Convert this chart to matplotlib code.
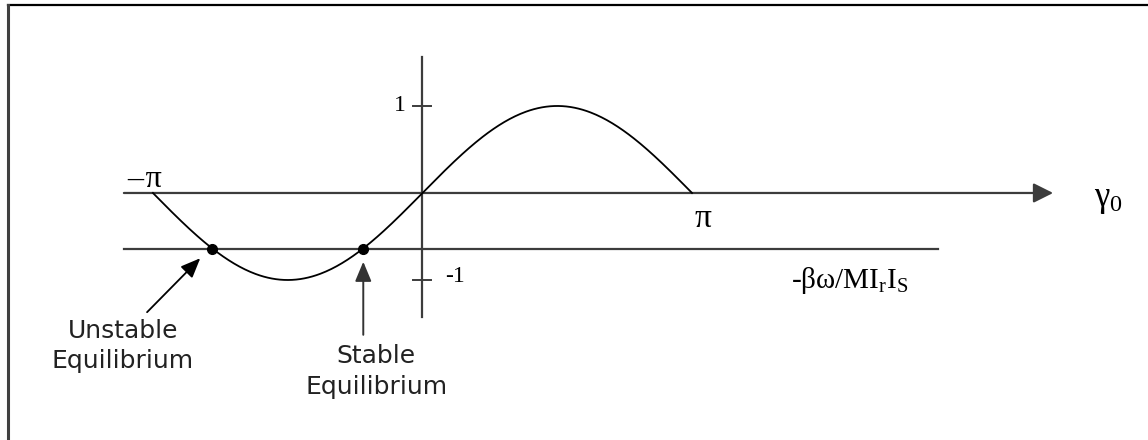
import numpy as np
import matplotlib
matplotlib.use("Agg")
import matplotlib.pyplot as plt
from matplotlib.lines import Line2D
from matplotlib.patches import FancyArrowPatch

# ====== data ======
gamma_start, gamma_end = -np.pi, np.pi      # curve drawn over one period
torque_level = -0.64                        # -beta*omega / (M Ir Is)
gamma_eq = [-2.45, -0.69]                   # unstable, stable equilibria
eq_names = ["Unstable\nEquilibrium", "Stable\nEquilibrium"]
tick_values = [1, -1]
tick_labels = ["1", "-1"]

gamma = np.linspace(gamma_start, gamma_end, 400)
torque = np.sin(gamma)

# ====== figure ======
fig = plt.figure(figsize=(11.48, 4.4), dpi=100)
ax = fig.add_axes([0, 0, 1, 1])
ax.set_xlim(-4.924, 8.456)
ax.set_ylim(-2.839, 2.218)
ax.axis("off")

axis_col = "#3c3c3c"
serif = ["Liberation Serif", "DejaVu Serif"]

# axes of the diagram
ax.add_patch(FancyArrowPatch((-3.48, 0), (7.35, 0), arrowstyle="-|>,head_length=0.6,head_width=0.3",
                             mutation_scale=20, color=axis_col, lw=1.6, shrinkA=0, shrinkB=0))
ax.plot([0, 0], [1.563, -1.425], color=axis_col, lw=1.6)
ax.plot([-3.48, 6.01], [torque_level, torque_level], color=axis_col, lw=1.6)

for v, lab in zip(tick_values, tick_labels):
    ax.plot([-0.11, 0.10], [v, v], color=axis_col, lw=1.4)
ax.text(-0.19, tick_values[0], tick_labels[0], ha="right", va="center", fontsize=17, family=serif)
ax.text(0.26, tick_values[1] + 0.04, tick_labels[1], ha="left", va="center", fontsize=17, family=serif)

# curve and equilibrium points
ax.plot(gamma, torque, color="black", lw=1.3)
ax.plot(gamma_eq, [torque_level] * len(gamma_eq), "o", color="black", ms=7)

# labels
ax.text(-3.234, 0.15, "\u2013\u200a\u03c0", ha="center", va="center", fontsize=23, family=serif)
ax.text(3.27, -0.30, "\u03c0", ha="center", va="center", fontsize=24, family=serif)
ax.text(8.0, -0.08, r"$\mathregular{\gamma_0}$", ha="center", va="center", fontsize=25, family=serif)
ax.text(4.98, -1.01, "\u2010" + r"$\mathregular{\beta\omega/MI_rI_S}$", ha="center", va="center",
        fontsize=21, family=serif)

# annotations
arrow_style = "-|>,head_length=0.6,head_width=0.25"
ax.add_patch(FancyArrowPatch((-3.21, -1.37), (-2.59, -0.75), arrowstyle=arrow_style,
                             mutation_scale=20, color="black", lw=1.3, shrinkA=0, shrinkB=0))
ax.add_patch(FancyArrowPatch((gamma_eq[1], -1.63), (gamma_eq[1], -0.79), arrowstyle=arrow_style,
                             mutation_scale=20, color="#333333", lw=1.4, shrinkA=0, shrinkB=0))
ax.text(-3.49, -1.76, eq_names[0], ha="center", va="center", fontsize=18,
        family="DejaVu Sans", linespacing=1.35, color="#222222")
ax.text(-0.54, -2.05, eq_names[1], ha="center", va="center", fontsize=18,
        family="DejaVu Sans", linespacing=1.35, color="#222222")

# frame (top and left edges only)
fig.add_artist(Line2D([7.5 / 1148, 1], [1 - 5.5 / 440, 1 - 5.5 / 440], transform=fig.transFigure,
                      color="black", lw=1.6))
fig.add_artist(Line2D([7.5 / 1148, 7.5 / 1148], [0, 1 - 5.5 / 440], transform=fig.transFigure,
                      color="#404040", lw=2.2))

fig.savefig("out.png", dpi=100)
